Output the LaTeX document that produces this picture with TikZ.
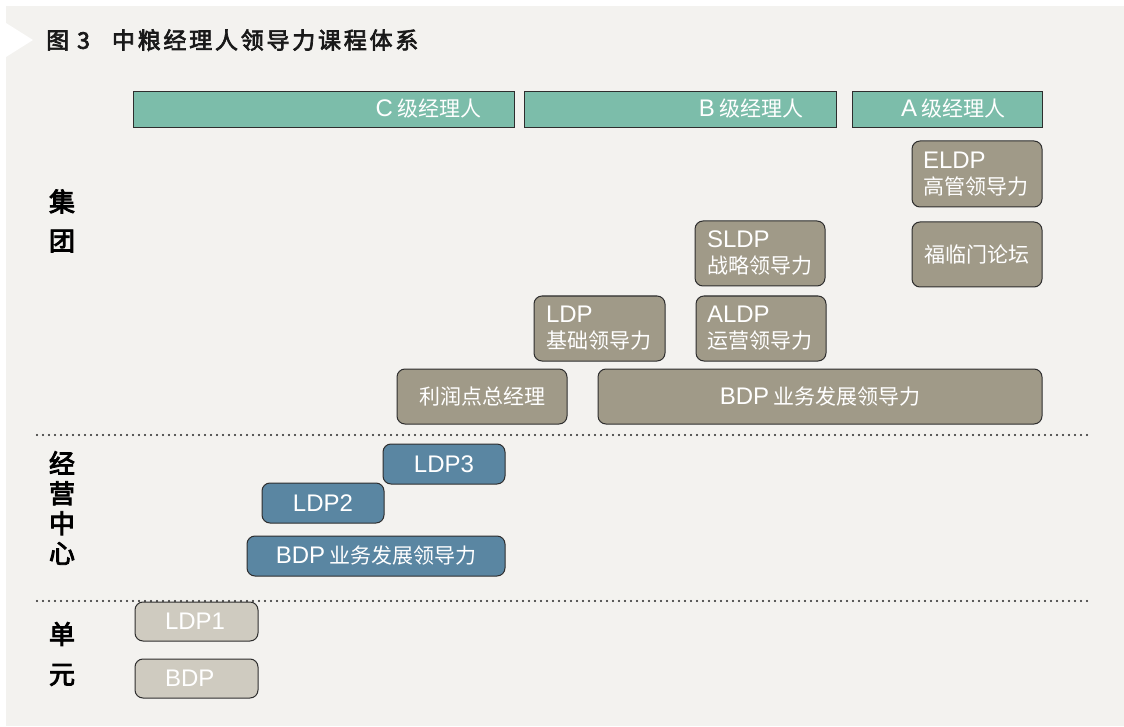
\documentclass[tikz,border=0pt]{standalone}
\usepackage{fontspec}
\setmainfont{Liberation Sans}
\newfontfamily\cjkfont{Noto Sans CJK SC}
\newfontfamily\titlefont[FakeBold=3,LetterSpace=12]{Noto Sans CJK SC}
\newfontfamily\labfont[FakeBold=3.5]{Noto Sans CJK SC}
\newcommand\myzh[1]{{\cjkfont\fontsize{21}{26}\selectfont #1}}
\newcommand\myen[1]{{\fontsize{24}{26}\selectfont #1}}
\newcommand\gap{\hspace{4pt}}
\definecolor{bg}{HTML}{F3F2EF}
\definecolor{tealb}{HTML}{7CBDAA}
\definecolor{brn}{HTML}{A09A88}
\definecolor{blu}{HTML}{5A86A2}
\definecolor{lgt}{HTML}{CFCBC0}
\definecolor{edge}{HTML}{2E2E2E}
\begin{document}
\begin{tikzpicture}[x=1pt,y=-1pt,
  hdr/.style={draw=edge, line width=0.9pt, fill=tealb, minimum height=36pt, inner ysep=0pt, text=white, align=right, font=\fontsize{24}{26}\selectfont},
  card/.style={draw=edge, line width=1pt, rounded corners=8pt, fill=brn, text=white, inner ysep=0pt, font=\fontsize{24}{26}\selectfont},
  bcard/.style={card, fill=blu, inner sep=0pt, align=center},
  lcard/.style={card, fill=lgt, align=left, inner xsep=30pt, text width=63pt, minimum height=39pt},
  lab/.style={align=center, inner sep=0pt, text=black},
  dotline/.style={line width=2.2pt, dash pattern=on 0pt off 6pt, line cap=round, draw=black!85}
]
\useasboundingbox (0,0) rectangle (1124,727);
\fill[white] (0,0) rectangle (1124,727);
\fill[bg] (6,6) rectangle (1124,726);
\fill[white] (6,23) -- (33,40) -- (6,57) -- cycle;

\node[anchor=west, inner sep=0pt, text=black!90, font=\titlefont\fontsize{23}{26}\selectfont] (title) at (46,40) {图\hspace{8pt}3\hspace{22pt}中粮经理人领导力课程体系};

% header bars
\node[hdr, text width=315pt, inner xsep=33pt] (hc) at (323.5,109) {\myen{C}\gap\myzh{级经理人}};
\node[hdr, text width=246pt, inner xsep=33pt] (hb) at (680,109) {\myen{B}\gap\myzh{级经理人}};
\node[hdr, text width=116pt, inner xsep=37pt] (ha) at (947,109) {\myen{A}\gap\myzh{级经理人}};

% group level
\node[card, align=left, text width=108pt, inner xsep=11pt, minimum height=66pt] (eldp) at (977,174) {\myen{ELDP}\\\myzh{高管领导力}};
\node[card, align=center, inner sep=0pt, minimum width=130pt, minimum height=65pt] (flm) at (977,254.5) {\myzh{福临门论坛}};
\node[card, align=left, text width=106pt, inner xsep=12pt, minimum height=65pt] (sldp) at (760,253.5) {\myen{SLDP}\\\myzh{战略领导力}};
\node[card, align=left, text width=108pt, inner xsep=11pt, minimum height=65pt] (aldp) at (761,328.5) {\myen{ALDP}\\\myzh{运营领导力}};
\node[card, align=left, text width=107pt, inner xsep=12pt, minimum height=65pt] (ldp) at (599.5,328.5) {\myen{LDP}\\\myzh{基础领导力}};
\node[card, align=center, inner sep=0pt, minimum width=170pt, minimum height=55pt] (lrd) at (482,396.5) {\myzh{利润点总经理}};
\node[card, align=center, inner sep=0pt, minimum width=444pt, minimum height=55pt] (bdpg) at (820,396.5) {\myen{BDP}\gap\myzh{业务发展领导力}};

% operating center
\node[bcard, minimum width=122pt, minimum height=40pt] (ldp3) at (444,464) {\myen{LDP3}};
\node[bcard, minimum width=122pt, minimum height=40pt] (ldp2) at (323,503) {\myen{LDP2}};
\node[bcard, minimum width=258pt, minimum height=40pt] (bdpc) at (376,556) {\myen{BDP}\gap\myzh{业务发展领导力}};

% unit
\node[lcard] (ldp1) at (196.5,621.5) {\myen{LDP1}};
\node[lcard] (bdpu) at (196.5,678.5) {\myen{BDP}};

% separators
\draw[dotline] (37,435) -- (1087,435);
\draw[dotline] (37,601) -- (1087,601);

% level labels
\node[lab, font=\labfont\fontsize{26}{39}\selectfont] (jt) at (62,221) {集\\团};
\node[lab, font=\labfont\fontsize{26}{30}\selectfont] (jyzx) at (62,508) {经\\营\\中\\心};
\node[lab, font=\labfont\fontsize{26}{40}\selectfont] (dy) at (62,654) {单\\元};
\end{tikzpicture}
\end{document}
